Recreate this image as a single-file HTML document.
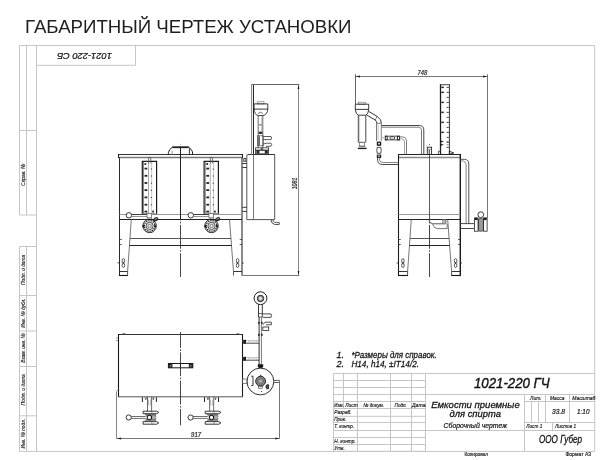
<!DOCTYPE html>
<html><head><meta charset="utf-8"><style>
html,body{margin:0;padding:0;background:#fff;}
body{width:610px;height:460px;overflow:hidden;position:relative;}
svg{position:absolute;left:0;top:0;filter:grayscale(1);}
text{font-family:"Liberation Sans",sans-serif;}
</style></head><body>
<svg width="610" height="460" viewBox="0 0 610 460" shape-rendering="auto">
<text x="25.1" y="32.6" font-size="18.7" fill="#1e1e1e" textLength="326.4" lengthAdjust="spacing">ГАБАРИТНЫЙ ЧЕРТЕЖ УСТАНОВКИ</text>
<line x1="36.5" y1="45.5" x2="594.7" y2="45.5" stroke="#c6c6c6" stroke-width="1" />
<line x1="594.7" y1="45.5" x2="594.7" y2="451.4" stroke="#c6c6c6" stroke-width="1" />
<line x1="36.5" y1="451.4" x2="594.7" y2="451.4" stroke="#c6c6c6" stroke-width="1" />
<line x1="36.5" y1="45.5" x2="36.5" y2="451.4" stroke="#c6c6c6" stroke-width="1" />
<line x1="19.5" y1="45.5" x2="36.5" y2="45.5" stroke="#c6c6c6" stroke-width="1" />
<line x1="19.5" y1="45.5" x2="19.5" y2="215" stroke="#c6c6c6" stroke-width="1" />
<line x1="26.5" y1="45.5" x2="26.5" y2="215" stroke="#c6c6c6" stroke-width="1" />
<line x1="19.5" y1="130.5" x2="36.5" y2="130.5" stroke="#c6c6c6" stroke-width="1" />
<line x1="19.5" y1="215" x2="36.5" y2="215" stroke="#c6c6c6" stroke-width="1" />
<line x1="19.5" y1="246.5" x2="19.5" y2="451.4" stroke="#c6c6c6" stroke-width="1" />
<line x1="26.5" y1="246.5" x2="26.5" y2="451.4" stroke="#c6c6c6" stroke-width="1" />
<line x1="19.5" y1="246.5" x2="36.5" y2="246.5" stroke="#c6c6c6" stroke-width="1" />
<line x1="19.5" y1="295.5" x2="36.5" y2="295.5" stroke="#c6c6c6" stroke-width="1" />
<line x1="19.5" y1="331.0" x2="36.5" y2="331.0" stroke="#c6c6c6" stroke-width="1" />
<line x1="19.5" y1="366.5" x2="36.5" y2="366.5" stroke="#c6c6c6" stroke-width="1" />
<line x1="19.5" y1="415.8" x2="36.5" y2="415.8" stroke="#c6c6c6" stroke-width="1" />
<line x1="19.5" y1="451.4" x2="36.5" y2="451.4" stroke="#c6c6c6" stroke-width="1" />
<line x1="36.5" y1="65.3" x2="135.5" y2="65.3" stroke="#c6c6c6" stroke-width="1" />
<line x1="135.5" y1="45.5" x2="135.5" y2="65.3" stroke="#c6c6c6" stroke-width="1" />
<text x="0" y="3.1" font-size="8.6" text-anchor="middle" fill="#111" stroke="#111" stroke-width="0.22" style="font-style:italic" textLength="54.9" lengthAdjust="spacingAndGlyphs" transform="translate(84.5 56.6) rotate(180)">1021-220 СБ</text>
<text x="0" y="0" font-size="6.0" text-anchor="middle" fill="#222" stroke="#222" stroke-width="0.15" style="font-style:italic" textLength="22.2" lengthAdjust="spacingAndGlyphs" transform="translate(25.3 174.8) rotate(-90)">Справ. №</text>
<text x="0" y="0" font-size="6.0" text-anchor="middle" fill="#222" stroke="#222" stroke-width="0.15" style="font-style:italic" textLength="30.0" lengthAdjust="spacingAndGlyphs" transform="translate(25.3 269.9) rotate(-90)">Подп. и дата</text>
<text x="0" y="0" font-size="6.0" text-anchor="middle" fill="#222" stroke="#222" stroke-width="0.15" style="font-style:italic" textLength="29.3" lengthAdjust="spacingAndGlyphs" transform="translate(25.3 313.1) rotate(-90)">Инв. № дубл.</text>
<text x="0" y="0" font-size="6.0" text-anchor="middle" fill="#222" stroke="#222" stroke-width="0.15" style="font-style:italic" textLength="29.3" lengthAdjust="spacingAndGlyphs" transform="translate(25.3 348.0) rotate(-90)">Взам. инв. №</text>
<text x="0" y="0" font-size="6.0" text-anchor="middle" fill="#222" stroke="#222" stroke-width="0.15" style="font-style:italic" textLength="31.3" lengthAdjust="spacingAndGlyphs" transform="translate(25.3 389.8) rotate(-90)">Подп. и дата</text>
<text x="0" y="0" font-size="6.0" text-anchor="middle" fill="#222" stroke="#222" stroke-width="0.15" style="font-style:italic" textLength="29.6" lengthAdjust="spacingAndGlyphs" transform="translate(25.3 433.7) rotate(-90)">Инв. № подл.</text>
<line x1="333.5" y1="373.5" x2="425.5" y2="373.5" stroke="#c6c6c6" stroke-width="1" />
<line x1="333.5" y1="380.5" x2="425.5" y2="380.5" stroke="#c6c6c6" stroke-width="1" />
<line x1="333.5" y1="387.5" x2="425.5" y2="387.5" stroke="#c6c6c6" stroke-width="1" />
<line x1="333.5" y1="394.5" x2="425.5" y2="394.5" stroke="#c6c6c6" stroke-width="1" />
<line x1="333.5" y1="401.5" x2="425.5" y2="401.5" stroke="#c6c6c6" stroke-width="1" />
<line x1="333.5" y1="408.5" x2="425.5" y2="408.5" stroke="#c6c6c6" stroke-width="1" />
<line x1="333.5" y1="416.3" x2="425.5" y2="416.3" stroke="#c6c6c6" stroke-width="1" />
<line x1="333.5" y1="422.5" x2="425.5" y2="422.5" stroke="#c6c6c6" stroke-width="1" />
<line x1="333.5" y1="430.5" x2="425.5" y2="430.5" stroke="#c6c6c6" stroke-width="1" />
<line x1="333.5" y1="437.5" x2="425.5" y2="437.5" stroke="#c6c6c6" stroke-width="1" />
<line x1="333.5" y1="444.5" x2="425.5" y2="444.5" stroke="#c6c6c6" stroke-width="1" />
<line x1="333.5" y1="451.4" x2="425.5" y2="451.4" stroke="#c6c6c6" stroke-width="1" />
<line x1="333.5" y1="373.5" x2="333.5" y2="451.4" stroke="#c6c6c6" stroke-width="1" />
<line x1="343.5" y1="373.5" x2="343.5" y2="408.5" stroke="#c6c6c6" stroke-width="1" />
<line x1="357.5" y1="373.5" x2="357.5" y2="451.4" stroke="#c6c6c6" stroke-width="1" />
<line x1="390.5" y1="373.5" x2="390.5" y2="451.4" stroke="#c6c6c6" stroke-width="1" />
<line x1="411.5" y1="373.5" x2="411.5" y2="451.4" stroke="#c6c6c6" stroke-width="1" />
<line x1="425.5" y1="373.5" x2="425.5" y2="451.4" stroke="#c6c6c6" stroke-width="1" />
<line x1="425.5" y1="373.5" x2="594.7" y2="373.5" stroke="#c6c6c6" stroke-width="1" />
<line x1="425.5" y1="394.5" x2="594.7" y2="394.5" stroke="#c6c6c6" stroke-width="1" />
<line x1="425.5" y1="430.5" x2="594.7" y2="430.5" stroke="#c6c6c6" stroke-width="1" />
<line x1="524.5" y1="401.5" x2="594.7" y2="401.5" stroke="#c6c6c6" stroke-width="1" />
<line x1="524.5" y1="422.5" x2="594.7" y2="422.5" stroke="#c6c6c6" stroke-width="1" />
<line x1="524.5" y1="394.5" x2="524.5" y2="451.4" stroke="#c6c6c6" stroke-width="1" />
<line x1="531.5" y1="401.5" x2="531.5" y2="422.5" stroke="#c6c6c6" stroke-width="1" />
<line x1="538.5" y1="401.5" x2="538.5" y2="422.5" stroke="#c6c6c6" stroke-width="1" />
<line x1="545.5" y1="394.5" x2="545.5" y2="422.5" stroke="#c6c6c6" stroke-width="1" />
<line x1="569.5" y1="394.5" x2="569.5" y2="422.5" stroke="#c6c6c6" stroke-width="1" />
<line x1="552.5" y1="422.5" x2="552.5" y2="430.5" stroke="#c6c6c6" stroke-width="1" />
<text x="334.2" y="406.8" font-size="5.6" text-anchor="start" fill="#111" stroke="#111" stroke-width="0.157" style="font-style:italic;" textLength="9.6" lengthAdjust="spacingAndGlyphs">Изм.</text>
<text x="345.3" y="406.8" font-size="5.6" text-anchor="start" fill="#111" stroke="#111" stroke-width="0.157" style="font-style:italic;" textLength="12.5" lengthAdjust="spacingAndGlyphs">Лист</text>
<text x="363.3" y="406.8" font-size="5.6" text-anchor="start" fill="#111" stroke="#111" stroke-width="0.157" style="font-style:italic;" textLength="20.8" lengthAdjust="spacingAndGlyphs">№ докум.</text>
<text x="394.6" y="406.8" font-size="5.6" text-anchor="start" fill="#111" stroke="#111" stroke-width="0.157" style="font-style:italic;" textLength="12.2" lengthAdjust="spacingAndGlyphs">Подп.</text>
<text x="412.0" y="406.8" font-size="5.6" text-anchor="start" fill="#111" stroke="#111" stroke-width="0.157" style="font-style:italic;" textLength="13.5" lengthAdjust="spacingAndGlyphs">Дата</text>
<text x="334.2" y="414.2" font-size="5.6" text-anchor="start" fill="#111" stroke="#111" stroke-width="0.157" style="font-style:italic;" textLength="17.5" lengthAdjust="spacingAndGlyphs">Разраб.</text>
<text x="334.2" y="421.3" font-size="5.6" text-anchor="start" fill="#111" stroke="#111" stroke-width="0.157" style="font-style:italic;" textLength="12.0" lengthAdjust="spacingAndGlyphs">Пров.</text>
<text x="334.2" y="428.4" font-size="5.6" text-anchor="start" fill="#111" stroke="#111" stroke-width="0.157" style="font-style:italic;" textLength="20.0" lengthAdjust="spacingAndGlyphs">Т. контр.</text>
<text x="334.2" y="442.5" font-size="5.6" text-anchor="start" fill="#111" stroke="#111" stroke-width="0.157" style="font-style:italic;" textLength="21.5" lengthAdjust="spacingAndGlyphs">Н. контр.</text>
<text x="334.2" y="449.6" font-size="5.6" text-anchor="start" fill="#111" stroke="#111" stroke-width="0.157" style="font-style:italic;" textLength="10.5" lengthAdjust="spacingAndGlyphs">Утв.</text>
<text x="474.0" y="387.6" font-size="14.0" text-anchor="start" fill="#111" stroke="#111" stroke-width="0.392" style="font-style:italic;" textLength="75.7" lengthAdjust="spacingAndGlyphs">1021-220 ГЧ</text>
<text x="431.2" y="408.0" font-size="9.8" text-anchor="start" fill="#111" stroke="#111" stroke-width="0.274" style="font-style:italic;" textLength="88.5" lengthAdjust="spacingAndGlyphs">Емкости приемные</text>
<text x="449.5" y="416.8" font-size="9.8" text-anchor="start" fill="#111" stroke="#111" stroke-width="0.274" style="font-style:italic;" textLength="51.5" lengthAdjust="spacingAndGlyphs">для спирта</text>
<text x="443.6" y="428.3" font-size="7.4" text-anchor="start" fill="#111" stroke="#111" stroke-width="0.207" style="font-style:italic;" textLength="63.4" lengthAdjust="spacingAndGlyphs">Сборочный чертеж</text>
<text x="530.0" y="399.6" font-size="5.6" text-anchor="start" fill="#111" stroke="#111" stroke-width="0.157" style="font-style:italic;" textLength="11.7" lengthAdjust="spacingAndGlyphs">Лит.</text>
<text x="550.0" y="399.6" font-size="5.6" text-anchor="start" fill="#111" stroke="#111" stroke-width="0.157" style="font-style:italic;" textLength="14.4" lengthAdjust="spacingAndGlyphs">Масса</text>
<text x="572.2" y="399.6" font-size="5.6" text-anchor="start" fill="#111" stroke="#111" stroke-width="0.157" style="font-style:italic;" textLength="23.2" lengthAdjust="spacingAndGlyphs">Масштаб</text>
<text x="552.1" y="414.1" font-size="7.0" text-anchor="start" fill="#111" stroke="#111" stroke-width="0.196" style="font-style:italic;" textLength="12.9" lengthAdjust="spacingAndGlyphs">33.8</text>
<text x="577.1" y="414.1" font-size="7.0" text-anchor="start" fill="#111" stroke="#111" stroke-width="0.196" style="font-style:italic;" textLength="12.3" lengthAdjust="spacingAndGlyphs">1:10</text>
<text x="526.3" y="427.8" font-size="5.6" text-anchor="start" fill="#111" stroke="#111" stroke-width="0.157" style="font-style:italic;" textLength="16.0" lengthAdjust="spacingAndGlyphs">Лист 1</text>
<text x="555.0" y="427.8" font-size="5.6" text-anchor="start" fill="#111" stroke="#111" stroke-width="0.157" style="font-style:italic;" textLength="21.1" lengthAdjust="spacingAndGlyphs">Листов 1</text>
<text x="539.0" y="443.2" font-size="10.0" text-anchor="start" fill="#111" stroke="#111" stroke-width="0.28" style="font-style:italic;" textLength="43.0" lengthAdjust="spacingAndGlyphs">ООО Губер</text>
<text x="464.4" y="455.8" font-size="5.4" text-anchor="start" fill="#111" stroke="#111" stroke-width="0.151" style="" textLength="23.6" lengthAdjust="spacingAndGlyphs">Копировал</text>
<text x="565.4" y="455.8" font-size="5.4" text-anchor="start" fill="#111" stroke="#111" stroke-width="0.151" style="" textLength="25.8" lengthAdjust="spacingAndGlyphs">Формат А3</text>
<text x="336.6" y="357.9" font-size="9.0" text-anchor="start" fill="#111" stroke="#111" stroke-width="0.252" style="font-style:italic;">1.</text>
<text x="351.4" y="357.9" font-size="9.0" text-anchor="start" fill="#111" stroke="#111" stroke-width="0.252" style="font-style:italic;" textLength="85.4" lengthAdjust="spacingAndGlyphs">*Размеры для справок.</text>
<text x="336.6" y="366.6" font-size="9.0" text-anchor="start" fill="#111" stroke="#111" stroke-width="0.252" style="font-style:italic;">2.</text>
<text x="351.4" y="366.6" font-size="9.0" text-anchor="start" fill="#111" stroke="#111" stroke-width="0.252" style="font-style:italic;" textLength="67.6" lengthAdjust="spacingAndGlyphs">H14, h14, ±IT14/2.</text>
<line x1="118.5" y1="154.5" x2="242.5" y2="154.5" stroke="#333" stroke-width="1.0" />
<line x1="119.0" y1="157.5" x2="242.0" y2="157.5" stroke="#777" stroke-width="1.3" />
<line x1="118.5" y1="154.0" x2="118.5" y2="158.0" stroke="#1c1c1c" stroke-width="1.0" />
<line x1="242.5" y1="154.0" x2="242.5" y2="158.0" stroke="#1c1c1c" stroke-width="1.0" />
<line x1="119.5" y1="157.5" x2="119.5" y2="275.5" stroke="#2a2a2a" stroke-width="1.0" />
<line x1="242.0" y1="157.5" x2="242.0" y2="275.5" stroke="#2a2a2a" stroke-width="1.1" />
<line x1="119.5" y1="214.5" x2="242.0" y2="214.5" stroke="#999" stroke-width="1.2" />
<line x1="119.5" y1="219.5" x2="242.0" y2="219.5" stroke="#222" stroke-width="1.0" />
<circle cx="180.5" cy="144.3" r="0.45" fill="#666"/>
<line x1="180.5" y1="146.4" x2="180.5" y2="219.5" stroke="#222" stroke-width="1.0" />
<line x1="180.5" y1="219.5" x2="180.5" y2="277.2" stroke="#333" stroke-width="0.9" stroke-dasharray="23.8 1.5 1.5 1.5" stroke-dashoffset="22.9"/>
<path d="M168.3 154.5 L168.4 152.6 Q169.2 149.2 172.4 147.2 L188.6 147.2 Q191.4 149.0 192.5 151.8 L192.6 154.5" stroke="#1c1c1c" stroke-width="1.0" fill="none" />
<line x1="172.4" y1="147.3" x2="188.6" y2="147.3" stroke="#222" stroke-width="1.7" />
<line x1="172.1" y1="150.6" x2="172.1" y2="154.5" stroke="#999" stroke-width="1.0" />
<line x1="189.4" y1="148.4" x2="189.4" y2="154.5" stroke="#222" stroke-width="0.9" />
<path d="M142.3 213.8 L142.3 161.3 L156.60000000000002 161.3 L156.60000000000002 213.8" stroke="#1a1a1a" stroke-width="1.2" fill="none" />
<line x1="142.3" y1="213.8" x2="156.60000000000002" y2="213.8" stroke="#555" stroke-width="0.8" />
<line x1="143.5" y1="161.8" x2="143.5" y2="213.5" stroke="#555" stroke-width="0.7" />
<line x1="148.5" y1="161.8" x2="148.5" y2="213.5" stroke="#888" stroke-width="0.7" />
<line x1="151.70000000000002" y1="161.8" x2="151.70000000000002" y2="213.5" stroke="#bbb" stroke-width="0.8" />
<rect x="144.5" y="163.1" width="1.8" height="1.8" fill="#222"/>
<rect x="144.5" y="167.7" width="2.8" height="1.8" fill="#222"/>
<rect x="144.5" y="174.9" width="2.8" height="1.8" fill="#222"/>
<rect x="144.5" y="182.1" width="2.8" height="1.8" fill="#222"/>
<rect x="144.5" y="189.2" width="2.8" height="1.8" fill="#222"/>
<rect x="144.5" y="196.5" width="2.8" height="1.8" fill="#222"/>
<rect x="144.5" y="203.79999999999998" width="2.8" height="1.8" fill="#222"/>
<rect x="144.5" y="210.7" width="2.8" height="1.8" fill="#222"/>
<rect x="150.9" y="168.5" width="1" height="1" fill="#222"/>
<rect x="150.9" y="175.5" width="1" height="1" fill="#222"/>
<rect x="150.9" y="182.7" width="1" height="1" fill="#222"/>
<rect x="150.9" y="189.8" width="1" height="1" fill="#222"/>
<rect x="150.9" y="197.0" width="1" height="1" fill="#222"/>
<rect x="150.9" y="204.3" width="1" height="1" fill="#222"/>
<rect x="152.3" y="210.6" width="1.6" height="2.0" fill="#222"/>
<path d="M148.60000000000002 163.5 L148.60000000000002 157.8 Q149.70000000000002 156.6 150.8 157.8 L150.8 163.5" stroke="#555" stroke-width="0.8" fill="none" />
<path d="M204.1 213.8 L204.1 161.3 L218.4 161.3 L218.4 213.8" stroke="#1a1a1a" stroke-width="1.2" fill="none" />
<line x1="204.1" y1="213.8" x2="218.4" y2="213.8" stroke="#555" stroke-width="0.8" />
<line x1="205.29999999999998" y1="161.8" x2="205.29999999999998" y2="213.5" stroke="#555" stroke-width="0.7" />
<line x1="210.29999999999998" y1="161.8" x2="210.29999999999998" y2="213.5" stroke="#888" stroke-width="0.7" />
<line x1="213.5" y1="161.8" x2="213.5" y2="213.5" stroke="#bbb" stroke-width="0.8" />
<rect x="206.29999999999998" y="163.1" width="1.8" height="1.8" fill="#222"/>
<rect x="206.29999999999998" y="167.7" width="2.8" height="1.8" fill="#222"/>
<rect x="206.29999999999998" y="174.9" width="2.8" height="1.8" fill="#222"/>
<rect x="206.29999999999998" y="182.1" width="2.8" height="1.8" fill="#222"/>
<rect x="206.29999999999998" y="189.2" width="2.8" height="1.8" fill="#222"/>
<rect x="206.29999999999998" y="196.5" width="2.8" height="1.8" fill="#222"/>
<rect x="206.29999999999998" y="203.79999999999998" width="2.8" height="1.8" fill="#222"/>
<rect x="206.29999999999998" y="210.7" width="2.8" height="1.8" fill="#222"/>
<rect x="212.7" y="168.5" width="1" height="1" fill="#222"/>
<rect x="212.7" y="175.5" width="1" height="1" fill="#222"/>
<rect x="212.7" y="182.7" width="1" height="1" fill="#222"/>
<rect x="212.7" y="189.8" width="1" height="1" fill="#222"/>
<rect x="212.7" y="197.0" width="1" height="1" fill="#222"/>
<rect x="212.7" y="204.3" width="1" height="1" fill="#222"/>
<rect x="214.1" y="210.6" width="1.6" height="2.0" fill="#222"/>
<path d="M210.4 163.5 L210.4 157.8 Q211.5 156.6 212.6 157.8 L212.6 163.5" stroke="#555" stroke-width="0.8" fill="none" />
<line x1="131.6" y1="214.5" x2="147.0" y2="214.5" stroke="#333" stroke-width="0.9" />
<line x1="131.6" y1="216.5" x2="147.0" y2="216.5" stroke="#777" stroke-width="0.8" />
<circle cx="128.9" cy="215.3" r="2.7" fill="#fff" stroke="#222" stroke-width="0.9"/>
<rect x="147.0" y="213.6" width="4.6" height="4.2" stroke="#555" stroke-width="0.7" fill="#fff" />
<line x1="148.0" y1="217.8" x2="148.0" y2="219.8" stroke="#555" stroke-width="0.7" />
<line x1="151.4" y1="217.8" x2="151.4" y2="219.8" stroke="#555" stroke-width="0.7" />
<circle cx="149.6" cy="225.9" r="6.7" stroke="#1c1c1c" stroke-width="1.0" fill="none"/>
<circle cx="149.6" cy="225.9" r="5.3" fill="none" stroke="#222" stroke-width="1.3" stroke-dasharray="1.4 0.9"/>
<circle cx="149.6" cy="225.9" r="3.6" stroke="#333" stroke-width="0.9" fill="none"/>
<circle cx="149.6" cy="225.9" r="2.4" fill="#999"/>
<circle cx="149.6" cy="225.9" r="0.9" fill="#fff"/>
<ellipse cx="143.4" cy="226.2" rx="1.0" ry="1.3" fill="#1c1c1c"/>
<ellipse cx="155.0" cy="226.2" rx="1.0" ry="1.3" fill="#1c1c1c"/>
<ellipse cx="155.79999999999998" cy="219.3" rx="2.7" ry="2.0" transform="rotate(-25 155.79999999999998 219.3)" fill="#2a2a2a"/>
<ellipse cx="156.0" cy="218.9" rx="1.5" ry="0.6" transform="rotate(-25 156.0 218.9)" fill="#888"/>
<line x1="193.5" y1="214.5" x2="208.9" y2="214.5" stroke="#333" stroke-width="0.9" />
<line x1="193.5" y1="216.5" x2="208.9" y2="216.5" stroke="#777" stroke-width="0.8" />
<circle cx="190.8" cy="215.3" r="2.7" fill="#fff" stroke="#222" stroke-width="0.9"/>
<rect x="208.9" y="213.6" width="4.6" height="4.2" stroke="#555" stroke-width="0.7" fill="#fff" />
<line x1="209.9" y1="217.8" x2="209.9" y2="219.8" stroke="#555" stroke-width="0.7" />
<line x1="213.3" y1="217.8" x2="213.3" y2="219.8" stroke="#555" stroke-width="0.7" />
<circle cx="211.5" cy="225.9" r="6.7" stroke="#1c1c1c" stroke-width="1.0" fill="none"/>
<circle cx="211.5" cy="225.9" r="5.3" fill="none" stroke="#222" stroke-width="1.3" stroke-dasharray="1.4 0.9"/>
<circle cx="211.5" cy="225.9" r="3.6" stroke="#333" stroke-width="0.9" fill="none"/>
<circle cx="211.5" cy="225.9" r="2.4" fill="#999"/>
<circle cx="211.5" cy="225.9" r="0.9" fill="#fff"/>
<ellipse cx="205.3" cy="226.2" rx="1.0" ry="1.3" fill="#1c1c1c"/>
<ellipse cx="216.9" cy="226.2" rx="1.0" ry="1.3" fill="#1c1c1c"/>
<ellipse cx="217.7" cy="219.3" rx="2.7" ry="2.0" transform="rotate(-25 217.7 219.3)" fill="#2a2a2a"/>
<ellipse cx="217.9" cy="218.9" rx="1.5" ry="0.6" transform="rotate(-25 217.9 218.9)" fill="#888"/>
<line x1="131.3" y1="219.5" x2="127.6" y2="271.5" stroke="#666" stroke-width="0.9" />
<line x1="229.5" y1="219.5" x2="233.5" y2="271.5" stroke="#666" stroke-width="0.9" />
<line x1="119.5" y1="271.5" x2="127.6" y2="271.5" stroke="#333" stroke-width="1.0" />
<line x1="119.0" y1="275.5" x2="127.9" y2="275.5" stroke="#111" stroke-width="1.1" />
<line x1="127.6" y1="271.5" x2="127.6" y2="275.5" stroke="#444" stroke-width="0.9" />
<line x1="233.5" y1="271.5" x2="242.0" y2="271.5" stroke="#333" stroke-width="1.0" />
<line x1="233.5" y1="271.5" x2="233.5" y2="275.5" stroke="#444" stroke-width="0.9" />
<line x1="130.0" y1="238.5" x2="231.0" y2="238.5" stroke="#555" stroke-width="1.0" />
<line x1="129.5" y1="245.5" x2="231.5" y2="245.5" stroke="#222" stroke-width="1.0" />
<line x1="119.5" y1="239.5" x2="121.8" y2="239.5" stroke="#333" stroke-width="0.8" />
<line x1="239.7" y1="239.5" x2="242.0" y2="239.5" stroke="#333" stroke-width="0.8" />
<line x1="119.5" y1="244.5" x2="121.8" y2="244.5" stroke="#333" stroke-width="0.8" />
<line x1="239.7" y1="244.5" x2="242.0" y2="244.5" stroke="#333" stroke-width="0.8" />
<ellipse cx="123.4" cy="260.5" rx="1.3" ry="2.0" fill="none" stroke="#333" stroke-width="0.8"/>
<ellipse cx="123.4" cy="265.4" rx="1.3" ry="2.0" fill="none" stroke="#333" stroke-width="0.8"/>
<circle cx="123.4" cy="262.9" r="0.9" fill="#333"/>
<line x1="121.60000000000001" y1="262.9" x2="125.2" y2="262.9" stroke="#666" stroke-width="0.6" />
<ellipse cx="237.6" cy="260.6" rx="1.3" ry="2.0" fill="none" stroke="#333" stroke-width="0.8"/>
<ellipse cx="237.6" cy="265.5" rx="1.3" ry="2.0" fill="none" stroke="#333" stroke-width="0.8"/>
<circle cx="237.6" cy="263.0" r="0.9" fill="#333"/>
<line x1="235.79999999999998" y1="263.0" x2="239.4" y2="263.0" stroke="#666" stroke-width="0.6" />
<line x1="117.5" y1="262.8" x2="119.5" y2="262.8" stroke="#333" stroke-width="0.9" />
<line x1="242.0" y1="263.0" x2="243.8" y2="263.0" stroke="#333" stroke-width="0.9" />
<path d="M246.8 219.6 L246.8 156.0 Q246.8 154.5 248.3 154.5 L274.7 154.5 L274.7 219.6 Z" stroke="#555" stroke-width="1.0" fill="none" />
<line x1="248.0" y1="154.5" x2="274.7" y2="154.5" stroke="#333" stroke-width="1.0" />
<line x1="253.5" y1="154.5" x2="253.5" y2="219.6" stroke="#666" stroke-width="0.9" />
<rect x="243.4" y="158.2" width="2.8" height="3.5" fill="#1a1a1a"/>
<rect x="244.2" y="159.0" width="1.3" height="1.8" fill="#fff"/>
<line x1="242.4" y1="163.5" x2="246.8" y2="163.5" stroke="#222" stroke-width="0.9" />
<line x1="242.4" y1="167.5" x2="246.8" y2="167.5" stroke="#222" stroke-width="0.9" />
<line x1="242.4" y1="207.3" x2="246.8" y2="207.3" stroke="#222" stroke-width="0.9" />
<line x1="242.4" y1="211.4" x2="246.8" y2="211.4" stroke="#222" stroke-width="0.9" />
<path d="M271.0 219.9 Q271.5 223.8 274.5 224.4 L279.3 224.4" stroke="#333" stroke-width="0.9" fill="none" />
<path d="M272.8 219.9 Q273.0 222.0 275.0 222.4 L279.3 222.4" stroke="#444" stroke-width="0.8" fill="none" />
<line x1="279.3" y1="222.4" x2="279.3" y2="224.4" stroke="#333" stroke-width="0.8" />
<line x1="251.6" y1="84.5" x2="251.6" y2="154.5" stroke="#888" stroke-width="1.1" />
<line x1="253.5" y1="84.5" x2="253.5" y2="154.5" stroke="#2a2a2a" stroke-width="1.0" />
<rect x="257.6" y="101.8" width="6.4" height="2.1" stroke="#666" stroke-width="0.6" fill="none" />
<path d="M254.0 109.1 L254.0 103.9 L267.8 103.9 L267.8 109.1 Q267.4 114.6 263.0 115.6 L258.2 115.6 Q254.4 114.6 254.0 109.1 Z" stroke="#222" stroke-width="0.9" fill="none" />
<line x1="254.0" y1="109.1" x2="267.8" y2="109.1" stroke="#222" stroke-width="0.9" />
<path d="M258.2 115.6 L258.2 147.8 M262.8 115.6 L262.8 147.8" stroke="#444" stroke-width="0.8" fill="none" />
<path d="M258.2 113.5 Q260.5 110.8 262.8 113.5" stroke="#444" stroke-width="0.8" fill="none" />
<line x1="261.6" y1="117" x2="261.6" y2="131" stroke="#aaa" stroke-width="0.7" />
<rect x="259.3" y="124.3" width="2" height="1.2" fill="#555"/>
<rect x="258.6" y="131.6" width="3.8" height="2.4" fill="#333"/>
<rect x="257.6" y="135.8" width="5.6" height="10.0" stroke="#444" stroke-width="0.7" fill="none" />
<line x1="259.2" y1="136.3" x2="259.2" y2="145.3" stroke="#222" stroke-width="1.0" />
<path d="M263.2 136.5 L271.0 136.5 Q272.4 138.0 271.0 139.6 L263.2 139.6" stroke="#333" stroke-width="0.8" fill="none" />
<path d="M263.2 144.0 L266.8 143.2 L271.0 143.2 Q272.4 144.6 271.0 146.1 L266.0 146.5" stroke="#333" stroke-width="0.8" fill="none" />
<rect x="255.6" y="147.8" width="13.0" height="2.4" stroke="#333" stroke-width="0.8" fill="none" />
<rect x="255.6" y="150.2" width="13.0" height="3.6" stroke="#333" stroke-width="0.8" fill="none" />
<rect x="256.4" y="150.5" width="3" height="3.0" fill="#222"/>
<rect x="264.8" y="150.5" width="3" height="3.0" fill="#222"/>
<rect x="260.6" y="148.2" width="2.6" height="1.6" fill="#444"/>
<line x1="298.5" y1="84.5" x2="298.5" y2="275.5" stroke="#888" stroke-width="1.0" />
<line x1="251.5" y1="84.5" x2="299.3" y2="84.5" stroke="#666" stroke-width="1.0" />
<line x1="242.0" y1="275.5" x2="299.3" y2="275.5" stroke="#777" stroke-width="1.0" />
<path d="M298.50 84.80 L299.40 89.00 L297.60 89.00 Z" fill="#1c1c1c" stroke="none"/>
<path d="M298.50 275.20 L297.60 271.00 L299.40 271.00 Z" fill="#1c1c1c" stroke="none"/>
<text x="0" y="0" font-size="7.0" text-anchor="middle" fill="#1a1a1a" stroke="#1a1a1a" stroke-width="0.2" style="font-style:italic" textLength="11.6" lengthAdjust="spacingAndGlyphs" transform="translate(296.6 183.5) rotate(-90)">1081</text>
<line x1="355.5" y1="76.5" x2="487.5" y2="76.5" stroke="#777" stroke-width="1.0" />
<path d="M355.80 76.50 L360.00 75.60 L360.00 77.40 Z" fill="#1c1c1c" stroke="none"/>
<path d="M487.20 76.50 L483.00 77.40 L483.00 75.60 Z" fill="#1c1c1c" stroke="none"/>
<line x1="355.5" y1="74.2" x2="355.5" y2="104.0" stroke="#666" stroke-width="1.0" />
<line x1="487.5" y1="74.2" x2="487.5" y2="217.8" stroke="#777" stroke-width="1.0" />
<text x="417.6" y="75.0" font-size="7.0" fill="#1a1a1a" stroke="#1a1a1a" stroke-width="0.2" style="font-style:italic" textLength="9.7" lengthAdjust="spacingAndGlyphs">748</text>
<line x1="398.0" y1="154.5" x2="460.8" y2="154.5" stroke="#222" stroke-width="1.0" />
<line x1="399.0" y1="157.5" x2="460.0" y2="157.5" stroke="#888" stroke-width="1.3" />
<line x1="398.5" y1="154.0" x2="398.5" y2="275.5" stroke="#1e1e1e" stroke-width="1.1" />
<line x1="460.3" y1="154.0" x2="460.3" y2="275.5" stroke="#1a1a1a" stroke-width="1.4" />
<line x1="398.5" y1="214.5" x2="460.2" y2="214.5" stroke="#999" stroke-width="1.2" />
<line x1="398.5" y1="219.5" x2="460.2" y2="219.5" stroke="#222" stroke-width="1.0" />
<line x1="411.3" y1="219.5" x2="407.6" y2="271.5" stroke="#666" stroke-width="0.9" />
<line x1="447.7" y1="219.5" x2="451.6" y2="271.5" stroke="#666" stroke-width="0.9" />
<line x1="398.5" y1="271.5" x2="407.6" y2="271.5" stroke="#333" stroke-width="1.0" />
<line x1="398.0" y1="275.5" x2="408.0" y2="275.5" stroke="#111" stroke-width="1.1" />
<line x1="407.6" y1="271.5" x2="407.6" y2="275.5" stroke="#444" stroke-width="0.9" />
<line x1="451.6" y1="271.5" x2="460.3" y2="271.5" stroke="#333" stroke-width="1.0" />
<line x1="451.2" y1="275.5" x2="460.8" y2="275.5" stroke="#111" stroke-width="1.1" />
<line x1="451.6" y1="271.5" x2="451.6" y2="275.5" stroke="#444" stroke-width="0.9" />
<line x1="410.0" y1="238.5" x2="449.2" y2="238.5" stroke="#555" stroke-width="1.0" />
<line x1="409.5" y1="245.5" x2="449.7" y2="245.5" stroke="#222" stroke-width="1.0" />
<line x1="398.5" y1="239.5" x2="400.8" y2="239.5" stroke="#333" stroke-width="0.8" />
<line x1="458.0" y1="239.5" x2="460.3" y2="239.5" stroke="#333" stroke-width="0.8" />
<line x1="398.5" y1="244.5" x2="400.8" y2="244.5" stroke="#333" stroke-width="0.8" />
<line x1="458.0" y1="244.5" x2="460.3" y2="244.5" stroke="#333" stroke-width="0.8" />
<ellipse cx="402.9" cy="260.6" rx="1.3" ry="2.0" fill="none" stroke="#333" stroke-width="0.8"/>
<ellipse cx="402.9" cy="265.5" rx="1.3" ry="2.0" fill="none" stroke="#333" stroke-width="0.8"/>
<circle cx="402.9" cy="263.0" r="0.9" fill="#333"/>
<line x1="401.09999999999997" y1="263.0" x2="404.7" y2="263.0" stroke="#666" stroke-width="0.6" />
<ellipse cx="455.6" cy="260.6" rx="1.3" ry="2.0" fill="none" stroke="#333" stroke-width="0.8"/>
<ellipse cx="455.6" cy="265.5" rx="1.3" ry="2.0" fill="none" stroke="#333" stroke-width="0.8"/>
<circle cx="455.6" cy="263.0" r="0.9" fill="#333"/>
<line x1="453.8" y1="263.0" x2="457.40000000000003" y2="263.0" stroke="#666" stroke-width="0.6" />
<line x1="396.6" y1="263.0" x2="398.5" y2="263.0" stroke="#333" stroke-width="0.9" />
<line x1="460.3" y1="263.0" x2="462.0" y2="263.0" stroke="#333" stroke-width="0.9" />
<line x1="429.5" y1="150.0" x2="429.5" y2="219.5" stroke="#333" stroke-width="0.8" />
<line x1="429.5" y1="219.5" x2="429.5" y2="277.2" stroke="#333" stroke-width="0.9" stroke-dasharray="23.8 1.5 1.5 1.5" stroke-dashoffset="22.9"/>
<path d="M428.8 219.5 Q429.3 223.2 432.6 223.8 L445.8 223.8 L445.8 219.5" stroke="#444" stroke-width="0.9" fill="none" />
<path d="M432.4 223.8 Q434.0 228.6 437.6 228.6 L447.2 228.6 L447.2 223.8" stroke="#555" stroke-width="0.8" fill="none" />
<rect x="442.4" y="219.8" width="3.2" height="3.8" stroke="#777" stroke-width="0.6" fill="#bbb" />
<rect x="427.3" y="147.2" width="4.3" height="7.3" stroke="#222" stroke-width="0.9" fill="none" />
<line x1="427.3" y1="149.4" x2="431.6" y2="149.4" stroke="#555" stroke-width="0.6" />
<line x1="428.5" y1="150.0" x2="428.5" y2="154.0" stroke="#aaa" stroke-width="0.6" />
<circle cx="429.5" cy="144.4" r="0.5" fill="#333"/>
<line x1="440.5" y1="84.2" x2="440.5" y2="154.0" stroke="#1a1a1a" stroke-width="1.3" />
<line x1="449.4" y1="84.2" x2="449.4" y2="154.0" stroke="#333" stroke-width="1.0" />
<line x1="440.5" y1="84.7" x2="449.4" y2="84.7" stroke="#444" stroke-width="1.0" />
<line x1="446.6" y1="87.4" x2="448.8" y2="87.4" stroke="#333" stroke-width="0.9" />
<line x1="446.6" y1="92.4" x2="448.8" y2="92.4" stroke="#333" stroke-width="0.9" />
<line x1="446.6" y1="97.4" x2="448.8" y2="97.4" stroke="#333" stroke-width="0.9" />
<line x1="446.6" y1="102.4" x2="448.8" y2="102.4" stroke="#333" stroke-width="0.9" />
<line x1="446.6" y1="107.4" x2="448.8" y2="107.4" stroke="#333" stroke-width="0.9" />
<line x1="446.6" y1="112.4" x2="448.8" y2="112.4" stroke="#333" stroke-width="0.9" />
<line x1="446.6" y1="117.4" x2="448.8" y2="117.4" stroke="#333" stroke-width="0.9" />
<line x1="446.6" y1="122.4" x2="448.8" y2="122.4" stroke="#333" stroke-width="0.9" />
<line x1="446.6" y1="127.4" x2="448.8" y2="127.4" stroke="#333" stroke-width="0.9" />
<line x1="446.6" y1="132.4" x2="448.8" y2="132.4" stroke="#333" stroke-width="0.9" />
<line x1="446.6" y1="137.4" x2="448.8" y2="137.4" stroke="#333" stroke-width="0.9" />
<line x1="446.6" y1="142.4" x2="448.8" y2="142.4" stroke="#333" stroke-width="0.9" />
<line x1="446.6" y1="147.4" x2="448.8" y2="147.4" stroke="#333" stroke-width="0.9" />
<rect x="441.4" y="86.6" width="2.4" height="1.5" fill="#222"/>
<rect x="441.4" y="91.6" width="2.4" height="1.5" fill="#222"/>
<rect x="441.4" y="101.6" width="2.4" height="1.5" fill="#222"/>
<rect x="441.4" y="111.6" width="2.4" height="1.5" fill="#222"/>
<rect x="441.4" y="121.6" width="2.4" height="1.5" fill="#222"/>
<rect x="441.4" y="131.6" width="2.4" height="1.5" fill="#222"/>
<path d="M441 140.4 L444 141.4 L441 142.4 Z" fill="#222"/>
<line x1="446.6" y1="141.4" x2="448.8" y2="141.4" stroke="#777" stroke-width="0.8" />
<path d="M441 143.8 L444 144.8 L441 145.8 Z" fill="#222"/>
<line x1="446.6" y1="144.8" x2="448.8" y2="144.8" stroke="#777" stroke-width="0.8" />
<path d="M449.4 151.2 L453.8 153.0 L449.4 154.2 Z" fill="none" stroke="#222" stroke-width="0.9"/>
<path d="M438.4 154 L438.4 151.2 L440.5 151.2" stroke="#333" stroke-width="0.8" fill="none" />
<rect x="358.3" y="102.2" width="7.3" height="2.0" stroke="#666" stroke-width="0.6" fill="none" />
<path d="M355.3 109.4 L355.3 104.2 L368.7 104.2 L368.7 109.4 Q368.3 114.2 365.8 115.2 L358.3 115.2 Q355.7 114.2 355.3 109.4 Z" stroke="#222" stroke-width="0.9" fill="none" />
<line x1="355.3" y1="109.4" x2="368.7" y2="109.4" stroke="#222" stroke-width="0.9" />
<line x1="358.3" y1="115.0" x2="358.3" y2="142.3" stroke="#333" stroke-width="0.9" />
<line x1="365.8" y1="115.0" x2="365.8" y2="142.3" stroke="#333" stroke-width="0.9" />
<line x1="359.6" y1="116" x2="359.6" y2="141.5" stroke="#bbb" stroke-width="0.7" />
<line x1="358.3" y1="142.3" x2="365.8" y2="142.3" stroke="#555" stroke-width="0.7" />
<rect x="359.5" y="142.3" width="5.0" height="3.9" stroke="#666" stroke-width="0.7" fill="none" />
<line x1="357.8" y1="148.4" x2="366.6" y2="148.4" stroke="#1a1a1a" stroke-width="1.4" />
<line x1="359.0" y1="146.2" x2="365.4" y2="146.2" stroke="#555" stroke-width="0.8" />
<path d="M368.7 111.4 L377.2 116.4 Q381.4 119.3 381.4 123.3" stroke="#222" stroke-width="0.9" fill="none" />
<path d="M366.7 115.0 L375.2 120.0 Q376.8 121.4 376.8 123.3" stroke="#222" stroke-width="0.9" fill="none" />
<line x1="377.2" y1="116.4" x2="375.2" y2="120.0" stroke="#444" stroke-width="0.7" />
<line x1="376.8" y1="123.3" x2="381.4" y2="123.3" stroke="#444" stroke-width="0.7" />
<line x1="376.6" y1="123.3" x2="376.6" y2="140.8" stroke="#444" stroke-width="0.8" />
<line x1="381.3" y1="123.3" x2="381.3" y2="140.8" stroke="#666" stroke-width="0.8" />
<line x1="378.3" y1="124.5" x2="378.3" y2="140" stroke="#bbb" stroke-width="0.7" />
<rect x="376.8" y="141.6" width="4.4" height="4.2" fill="#1a1a1a"/>
<rect x="378.2" y="142.8" width="1.6" height="1.6" fill="#fff"/>
<path d="M377.2 147.4 L380.8 147.4 Q381.6 150.3 380.8 153.3 L377.2 153.3 Q376.4 150.3 377.2 147.4 Z" fill="none" stroke="#222" stroke-width="0.8"/>
<rect x="376.8" y="154.6" width="4.4" height="3.3" fill="#1a1a1a"/>
<rect x="378.2" y="155.4" width="1.4" height="1.4" fill="#fff"/>
<path d="M377.6 157.8 L377.6 160.3 Q378.2 164.5 382.2 164.5 L398.5 164.5" stroke="#333" stroke-width="0.9" fill="none" />
<path d="M379.6 157.8 L379.6 160.0 Q380.2 162.5 383.0 162.5 L398.5 162.5" stroke="#666" stroke-width="0.8" fill="none" />
<path d="M381.4 125.5 L419.6 125.5 Q423.8 125.7 423.8 130.0 L423.8 154.5" stroke="#333" stroke-width="0.9" fill="none" />
<path d="M381.4 127.2 L419.3 127.2 Q421.5 127.6 421.5 130.5 L421.5 154.5" stroke="#555" stroke-width="0.8" fill="none" />
<rect x="384.8" y="135.6" width="2.9" height="4.9" fill="#1a1a1a"/>
<rect x="396.9" y="135.6" width="3.0" height="4.9" fill="#1a1a1a"/>
<rect x="385.7" y="136.8" width="1.1" height="2.4" fill="#fff"/>
<rect x="397.9" y="136.8" width="1.1" height="2.4" fill="#fff"/>
<path d="M387.7 136.2 L396.9 136.2 M387.7 139.9 L396.9 139.9" stroke="#222" stroke-width="0.8" fill="none" />
<path d="M389.5 138.0 L391.0 136.8 L393.6 136.8 L395.1 138.0 L393.6 139.3 L391.0 139.3 Z" stroke="#222" stroke-width="0.8" fill="none" />
<line x1="382.0" y1="137.8" x2="384.8" y2="137.8" stroke="#999" stroke-width="0.8" />
<path d="M399.9 136.9 L402.3 136.9 Q406.5 137.3 406.5 141.5 L406.5 154.5" stroke="#555" stroke-width="0.8" fill="none" />
<path d="M399.9 138.9 L401.8 138.9 Q404.5 139.3 404.5 142.0 L404.5 154.5" stroke="#777" stroke-width="0.7" fill="none" />
<path d="M460.5 159.3 L464.5 159.3 Q468.8 159.6 468.8 164.0 L468.8 223.6" stroke="#444" stroke-width="0.9" fill="none" />
<path d="M460.5 161.0 L463.5 161.0 Q466.1 161.8 466.1 164.8 L466.1 223.6" stroke="#666" stroke-width="0.8" fill="none" />
<line x1="460.3" y1="223.6" x2="474.0" y2="223.6" stroke="#333" stroke-width="0.9" />
<line x1="460.3" y1="228.5" x2="474.0" y2="228.5" stroke="#333" stroke-width="0.9" />
<rect x="478.2" y="218.5" width="5.2" height="12.8" rx="2" fill="#999" stroke="#333" stroke-width="0.7"/>
<rect x="474.5" y="218.0" width="3.7" height="13.2" stroke="#222" stroke-width="0.8" fill="none" />
<rect x="483.4" y="218.0" width="3.7" height="13.2" stroke="#222" stroke-width="0.8" fill="none" />
<rect x="475.0" y="217.7" width="2.6" height="2.4" fill="#1a1a1a"/>
<rect x="484.0" y="217.7" width="2.6" height="2.4" fill="#1a1a1a"/>
<circle cx="480.8" cy="214.7" r="2.9" fill="#fff" stroke="#222" stroke-width="0.9"/>
<line x1="118.5" y1="334.5" x2="242.5" y2="334.5" stroke="#333" stroke-width="1.0" />
<line x1="118.5" y1="334.0" x2="118.5" y2="396.9" stroke="#1a1a1a" stroke-width="1.1" />
<line x1="242.5" y1="334.0" x2="242.5" y2="396.9" stroke="#1a1a1a" stroke-width="1.1" />
<line x1="118.0" y1="396.8" x2="243.0" y2="396.8" stroke="#555" stroke-width="1.0" />
<line x1="180.5" y1="332.0" x2="180.5" y2="425.3" stroke="#333" stroke-width="0.9" stroke-dasharray="23.8 1.5 1.5 1.5" stroke-dashoffset="7.9"/>
<rect x="168.4" y="363.5" width="24.4" height="4.3" fill="#fff" stroke="#1a1a1a" stroke-width="1.0"/>
<rect x="168.4" y="363.6" width="4.0" height="4.1" fill="#1a1a1a"/>
<rect x="188.8" y="363.6" width="4.0" height="4.1" fill="#1a1a1a"/>
<circle cx="170.6" cy="365.7" r="1.0" fill="#888"/>
<circle cx="190.6" cy="365.7" r="1.0" fill="#888"/>
<line x1="180.5" y1="363.5" x2="180.5" y2="368.0" stroke="#222" stroke-width="1.0" />
<path d="M122.2 334.2 Q123.8 332.6 125.4 334.2" stroke="#444" stroke-width="0.8" fill="none" />
<path d="M236.2 334.2 Q237.8 332.8 239.4 334.2" stroke="#444" stroke-width="0.8" fill="none" />
<path d="M116.2 338 L117.8 338 M116.2 340.5 L117.8 340.5" stroke="#555" stroke-width="0.7" fill="none" />
<path d="M116.6 391.5 Q116.6 389.8 118.3 389.8" stroke="#888" stroke-width="0.7" fill="none" />
<line x1="242.7" y1="340.5" x2="259.0" y2="340.5" stroke="#aaa" stroke-width="0.7" />
<line x1="242.7" y1="343.2" x2="259.0" y2="343.2" stroke="#333" stroke-width="0.9" />
<rect x="243.2" y="339.8" width="2.8" height="3.8" fill="#1a1a1a"/>
<line x1="248.5" y1="341.2" x2="256.5" y2="341.2" stroke="#ccc" stroke-width="0.8" />
<circle cx="248.6" cy="341.8" r="0.4" fill="#555"/>
<circle cx="256.4" cy="341.8" r="0.4" fill="#555"/>
<line x1="242.7" y1="357.5" x2="259.0" y2="357.5" stroke="#aaa" stroke-width="0.7" />
<line x1="242.7" y1="360.2" x2="259.0" y2="360.2" stroke="#333" stroke-width="0.9" />
<rect x="243.2" y="356.8" width="2.8" height="3.8" fill="#1a1a1a"/>
<line x1="248.5" y1="358.2" x2="256.5" y2="358.2" stroke="#ccc" stroke-width="0.8" />
<circle cx="248.6" cy="358.8" r="0.4" fill="#555"/>
<circle cx="256.4" cy="358.8" r="0.4" fill="#555"/>
<line x1="258.5" y1="304.5" x2="258.5" y2="317.0" stroke="#222" stroke-width="0.9" />
<line x1="262.3" y1="304.5" x2="262.3" y2="317.0" stroke="#222" stroke-width="0.9" />
<line x1="258.5" y1="313.5" x2="262.3" y2="313.5" stroke="#333" stroke-width="0.7" />
<line x1="258.5" y1="317.0" x2="262.3" y2="317.0" stroke="#333" stroke-width="0.7" />
<line x1="259.1" y1="317.0" x2="259.1" y2="366.0" stroke="#1a1a1a" stroke-width="0.9" />
<line x1="261.4" y1="317.0" x2="261.4" y2="366.0" stroke="#555" stroke-width="0.8" />
<rect x="258.2" y="321.8" width="1.4" height="2" fill="#111"/>
<rect x="261.2" y="321.8" width="1.4" height="2" fill="#111"/>
<rect x="258.2" y="333.8" width="1.4" height="2" fill="#111"/>
<rect x="261.2" y="333.8" width="1.4" height="2" fill="#111"/>
<path d="M262.8 313.9 L271.0 313.9 Q272.2 315.6 271.0 317.4 L262.8 317.4" stroke="#222" stroke-width="0.8" fill="none" />
<path d="M262.8 324.8 L265.0 322.2 L271.3 322.2 L271.3 324.8 L266.0 324.8" stroke="#222" stroke-width="0.8" fill="none" />
<rect x="262.8" y="327.0" width="5.9" height="3.4" stroke="#222" stroke-width="0.8" fill="none" />
<circle cx="260.5" cy="298.2" r="6.4" stroke="#1a1a1a" stroke-width="1.0" fill="none"/>
<circle cx="260.5" cy="298.5" r="3.2" fill="#999" stroke="#222" stroke-width="1.0"/>
<circle cx="260.5" cy="298.4" r="1.3" fill="#eee"/>
<path d="M257.8 364.2 L263.2 364.2 L263.2 367.0 Q260.5 369.5 257.8 367.0 Z" fill="#1a1a1a"/>
<circle cx="260.4" cy="381.5" r="13.4" stroke="#1a1a1a" stroke-width="0.9" fill="none"/>
<rect x="242.6" y="379.0" width="4.4" height="4.5" stroke="#555" stroke-width="0.7" fill="none" />
<circle cx="260.6" cy="381.2" r="4.9" fill="#888" stroke="#222" stroke-width="1.0"/>
<circle cx="260.6" cy="381.2" r="3.0" fill="none" stroke="#444" stroke-width="0.7" stroke-dasharray="0.8 0.8"/>
<circle cx="260.6" cy="381.2" r="1.3" fill="#bbb"/>
<path d="M259.5 375.8 L260.6 374.6 L261.7 375.8 Z" fill="#222"/>
<path d="M251.2 376.2 L253.0 376.2 L253.0 385.5 L251.2 385.5" stroke="#222" stroke-width="0.9" fill="none" />
<path d="M266.8 384.8 Q264.8 386.8 266.8 388.8 L268.6 388.8 L268.6 384.8 Z" fill="#555" stroke="#111" stroke-width="0.8"/>
<rect x="258.4" y="386.0" width="4.2" height="2.2" stroke="#333" stroke-width="0.6" fill="none" />
<circle cx="261.5" cy="391.5" r="0.7" fill="#555"/>
<line x1="273.8" y1="380.4" x2="279.7" y2="380.4" stroke="#333" stroke-width="0.8" />
<line x1="273.8" y1="382.5" x2="279.7" y2="382.5" stroke="#333" stroke-width="0.8" />
<line x1="279.5" y1="380.4" x2="279.5" y2="438.5" stroke="#777" stroke-width="1.0" />
<line x1="116.5" y1="391.5" x2="116.5" y2="438.5" stroke="#888" stroke-width="1.0" />
<line x1="116.5" y1="438.5" x2="279.5" y2="438.5" stroke="#777" stroke-width="1.0" />
<path d="M116.90 438.50 L121.10 437.60 L121.10 439.40 Z" fill="#1c1c1c" stroke="none"/>
<path d="M279.40 438.50 L275.20 439.40 L275.20 437.60 Z" fill="#1c1c1c" stroke="none"/>
<text x="191.1" y="436.7" font-size="7.0" fill="#1a1a1a" stroke="#1a1a1a" stroke-width="0.2" style="font-style:italic" textLength="9.9" lengthAdjust="spacingAndGlyphs">917</text>
<line x1="147.5" y1="396.9" x2="147.5" y2="411.1" stroke="#444" stroke-width="0.8" />
<line x1="151.6" y1="396.9" x2="151.6" y2="411.1" stroke="#444" stroke-width="0.8" />
<path d="M148.5 399.5 L148.5 404.6 Q149.6 405.8 150.6 404.6 L150.6 399.5" stroke="#888" stroke-width="0.6" fill="none" />
<path d="M142.4 397.2 L142.4 402.0 M156.4 397.2 L156.4 402.0" stroke="#222" stroke-width="1.0" fill="none" />
<path d="M145.0 397.4 L145.8 399.8 L146.6 397.4 M152.8 397.4 L153.4 399.8 L154.0 397.4" stroke="#333" stroke-width="0.7" fill="none" />
<path d="M143.1 411.2 L156.8 411.2 L158.8 412.4 L156.8 413.7 L143.1 413.7 Z" stroke="#222" stroke-width="0.9" fill="none" />
<line x1="151.9" y1="411.4" x2="151.9" y2="413.5" stroke="#555" stroke-width="0.6" />
<path d="M143.1 421.6 L156.8 421.6 L158.8 422.9 L156.8 424.2 L143.1 424.2 Z" stroke="#222" stroke-width="0.9" fill="none" />
<line x1="151.9" y1="421.8" x2="151.9" y2="424.0" stroke="#555" stroke-width="0.6" />
<line x1="144.9" y1="414.7" x2="156.0" y2="414.7" stroke="#333" stroke-width="0.8" />
<line x1="144.9" y1="420.2" x2="156.0" y2="420.2" stroke="#333" stroke-width="0.8" />
<path d="M151.4 415.6 L155.8 415.6 L155.8 416.9 L151.4 416.9 M151.4 418.1 L155.8 418.1 L155.8 419.4 L151.4 419.4" stroke="#333" stroke-width="0.6" fill="none" />
<line x1="131.2" y1="416.6" x2="145.20000000000002" y2="416.6" stroke="#333" stroke-width="0.8" />
<line x1="131.2" y1="418.5" x2="145.20000000000002" y2="418.5" stroke="#444" stroke-width="0.7" />
<path d="M145.20000000000002 416.6 Q146.4 415.4 147.4 415.6 M145.20000000000002 418.5 Q146.4 419.6 147.4 419.4" stroke="#333" stroke-width="0.7" fill="none" />
<circle cx="149.4" cy="417.5" r="2.2" fill="#fff" stroke="#1a1a1a" stroke-width="1.1"/>
<circle cx="128.7" cy="417.5" r="2.6" fill="#fff" stroke="#222" stroke-width="0.9"/>
<line x1="209.6" y1="396.9" x2="209.6" y2="411.1" stroke="#444" stroke-width="0.8" />
<line x1="213.7" y1="396.9" x2="213.7" y2="411.1" stroke="#444" stroke-width="0.8" />
<path d="M210.6 399.5 L210.6 404.6 Q211.7 405.8 212.7 404.6 L212.7 399.5" stroke="#888" stroke-width="0.6" fill="none" />
<path d="M204.5 397.2 L204.5 402.0 M218.5 397.2 L218.5 402.0" stroke="#222" stroke-width="1.0" fill="none" />
<path d="M207.1 397.4 L207.9 399.8 L208.7 397.4 M214.9 397.4 L215.5 399.8 L216.1 397.4" stroke="#333" stroke-width="0.7" fill="none" />
<path d="M205.2 411.2 L218.9 411.2 L220.9 412.4 L218.9 413.7 L205.2 413.7 Z" stroke="#222" stroke-width="0.9" fill="none" />
<line x1="214.0" y1="411.4" x2="214.0" y2="413.5" stroke="#555" stroke-width="0.6" />
<path d="M205.2 421.6 L218.9 421.6 L220.9 422.9 L218.9 424.2 L205.2 424.2 Z" stroke="#222" stroke-width="0.9" fill="none" />
<line x1="214.0" y1="421.8" x2="214.0" y2="424.0" stroke="#555" stroke-width="0.6" />
<line x1="207.0" y1="414.7" x2="218.1" y2="414.7" stroke="#333" stroke-width="0.8" />
<line x1="207.0" y1="420.2" x2="218.1" y2="420.2" stroke="#333" stroke-width="0.8" />
<path d="M213.5 415.6 L217.9 415.6 L217.9 416.9 L213.5 416.9 M213.5 418.1 L217.9 418.1 L217.9 419.4 L213.5 419.4" stroke="#333" stroke-width="0.6" fill="none" />
<line x1="193.1" y1="416.6" x2="207.3" y2="416.6" stroke="#333" stroke-width="0.8" />
<line x1="193.1" y1="418.5" x2="207.3" y2="418.5" stroke="#444" stroke-width="0.7" />
<path d="M207.3 416.6 Q208.5 415.4 209.5 415.6 M207.3 418.5 Q208.5 419.6 209.5 419.4" stroke="#333" stroke-width="0.7" fill="none" />
<circle cx="211.5" cy="417.5" r="2.2" fill="#fff" stroke="#1a1a1a" stroke-width="1.1"/>
<circle cx="190.6" cy="417.5" r="2.6" fill="#fff" stroke="#222" stroke-width="0.9"/>
</svg>
</body></html>
